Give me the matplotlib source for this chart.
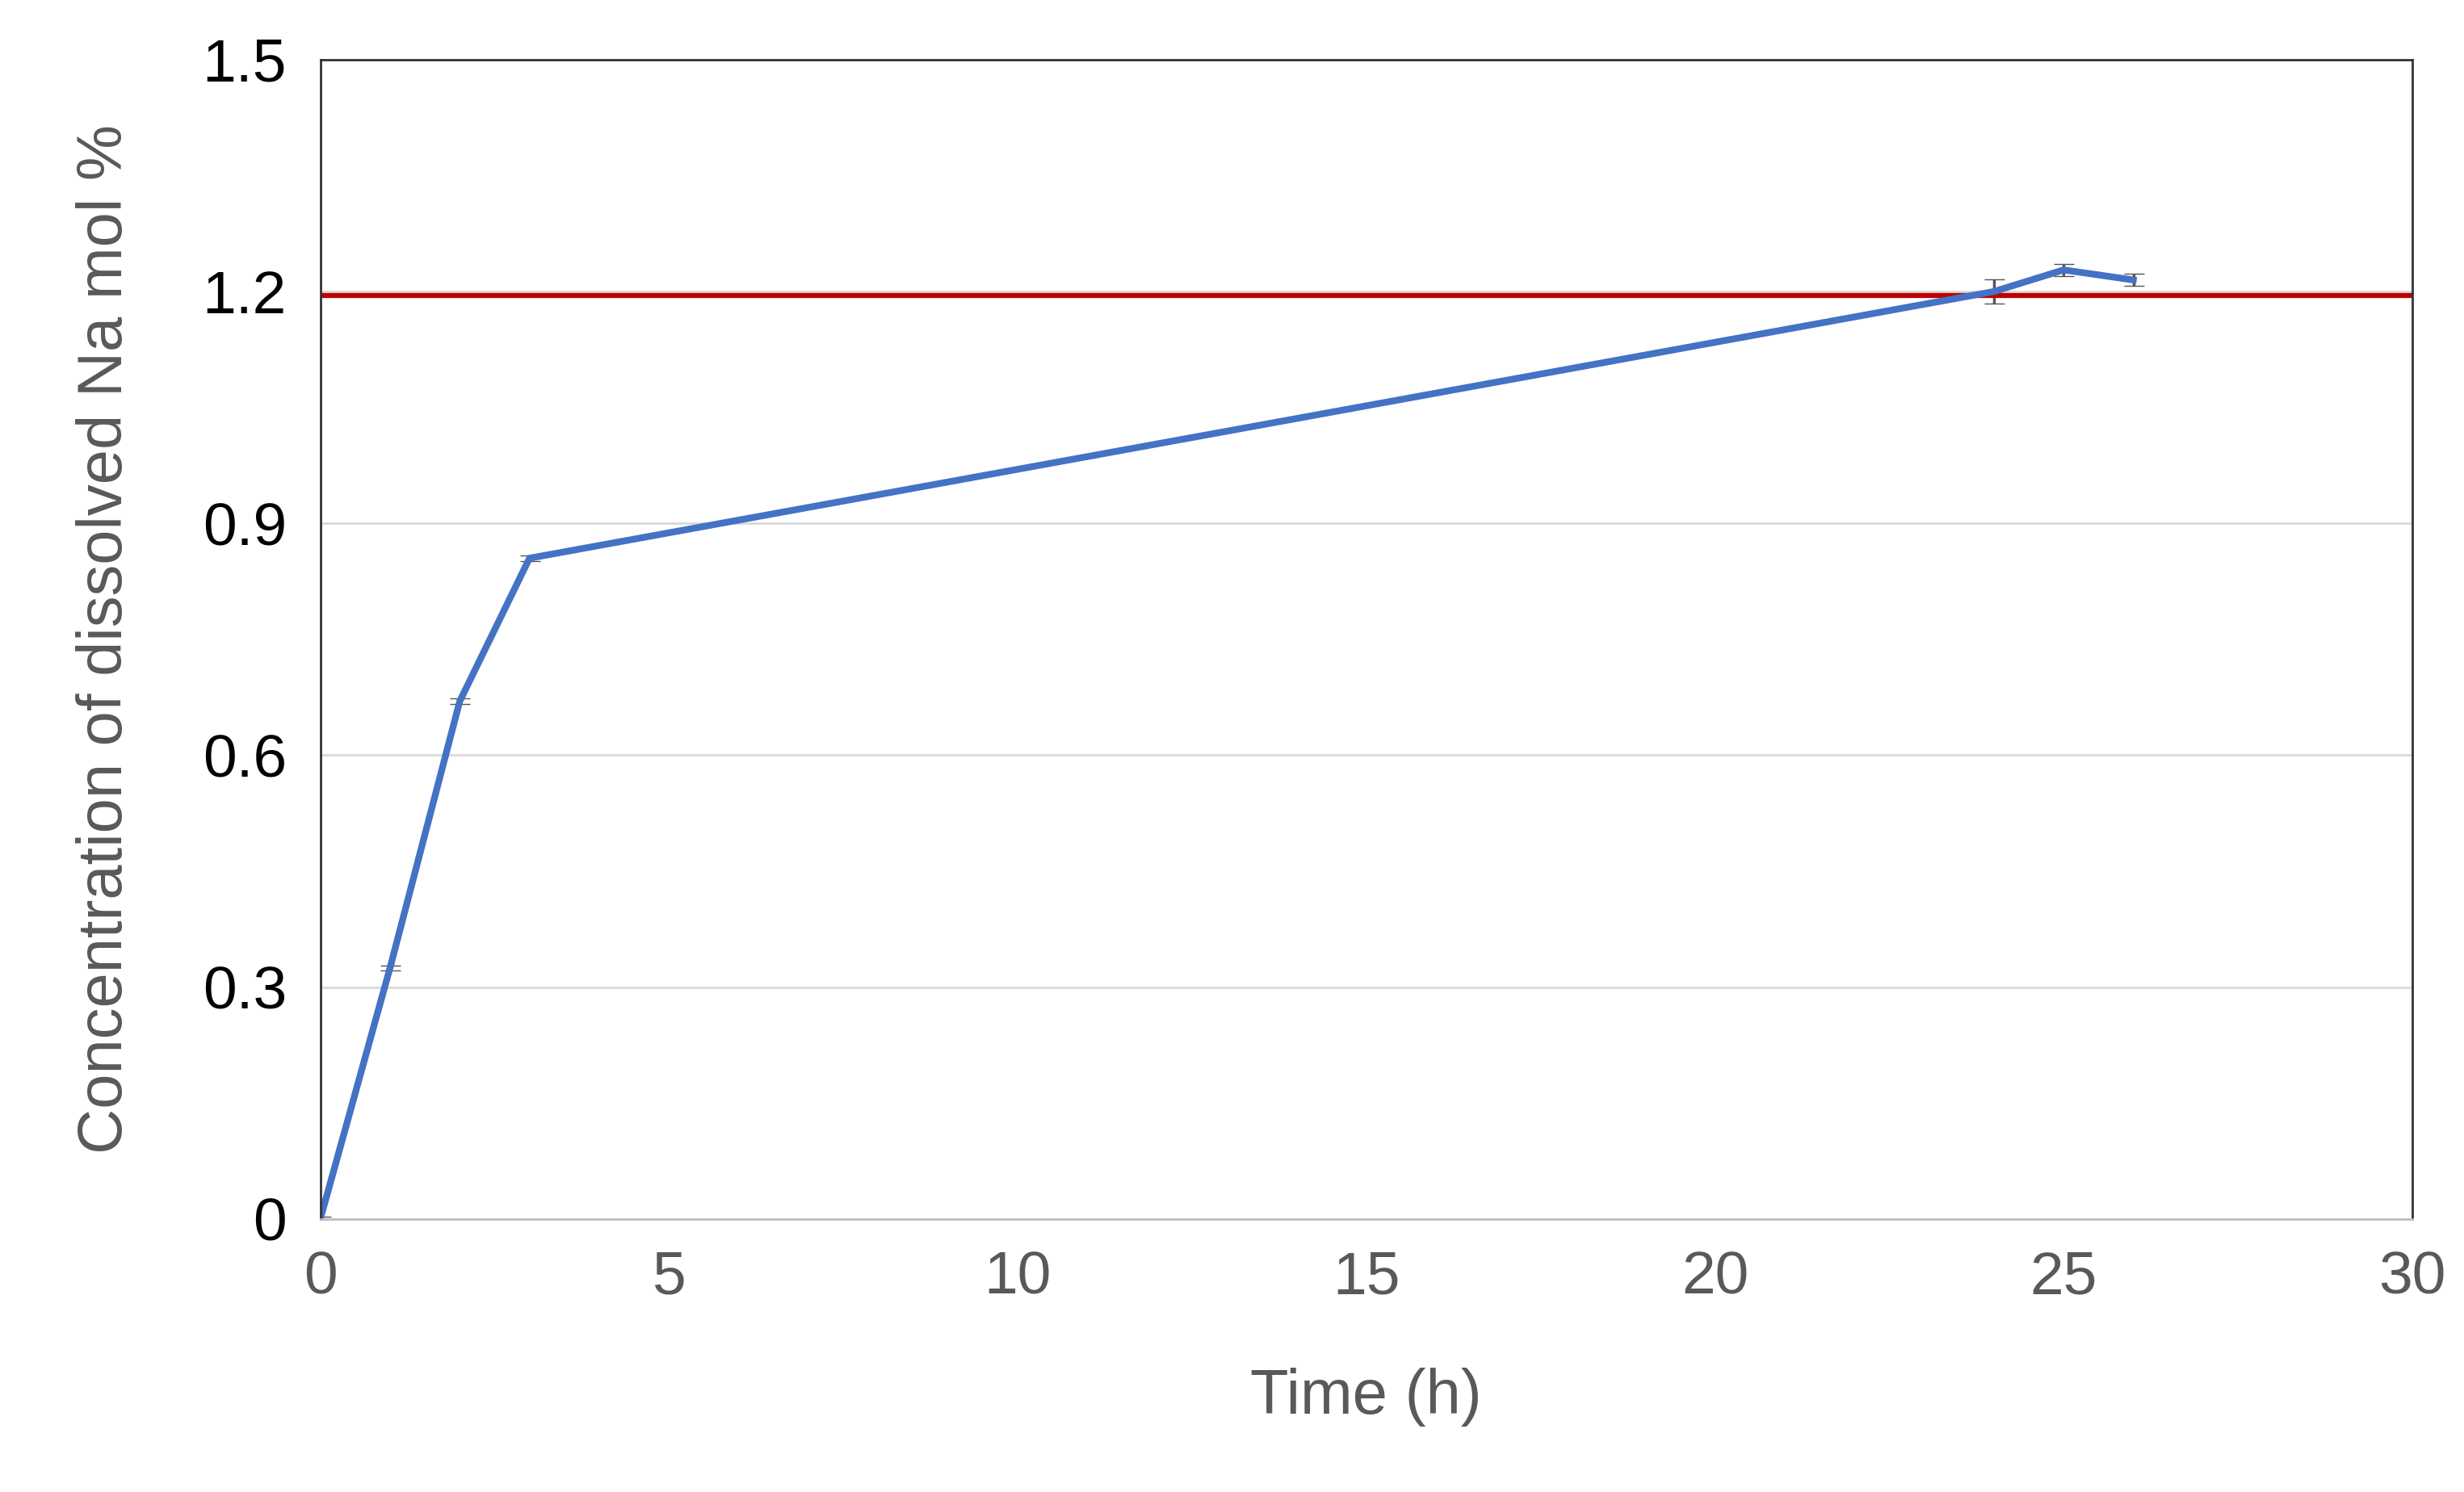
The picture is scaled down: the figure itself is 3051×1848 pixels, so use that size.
import matplotlib.pyplot as plt

time_h = [0, 1, 2, 3, 24, 25, 26]
na_conc = [0.0, 0.325, 0.67, 0.855, 1.2, 1.228, 1.215]
na_err = [0.003, 0.003, 0.004, 0.004, 0.016, 0.008, 0.008]
ref_level = 1.195

plt.rcParams['font.family'] = ['Liberation Sans', 'DejaVu Sans']

fig, ax = plt.subplots(figsize=(30.51, 18.48), dpi=100)
fig.subplots_adjust(left=0.13, right=0.979, top=0.96, bottom=0.183)

ax.errorbar(time_h, na_conc, yerr=na_err, color='#4472C4', lw=6,
            ecolor='#555555', elinewidth=2.5, capsize=9)
ax.axhline(ref_level, color='#C00000', lw=4.5)

ax.set_xlim(0, 30)
ax.set_ylim(0, 1.5)
ax.set_xticks(range(0, 31, 5))
ax.set_yticks([0, 0.3, 0.6, 0.9, 1.2, 1.5])
ax.set_yticklabels(['0', '0.3', '0.6', '0.9', '1.2', '1.5'])
ax.grid(axis='y', color='#D9D9D9', lw=2)
ax.set_axisbelow(True)
for s in ax.spines.values():
    s.set_color('#333333')
    s.set_linewidth(2)
ax.spines['bottom'].set_color('#BFBFBF')
ax.tick_params(length=0, labelsize=54)
ax.tick_params(axis='x', labelcolor='#595959', pad=28)
ax.tick_params(axis='y', labelcolor='black', pad=30)

ax.set_xlabel('Time (h)', fontsize=56, color='#595959', labelpad=55)
ax.set_ylabel('Concentration of dissolved Na mol %', fontsize=56,
              color='#595959', labelpad=60)

fig.savefig('out.png')
